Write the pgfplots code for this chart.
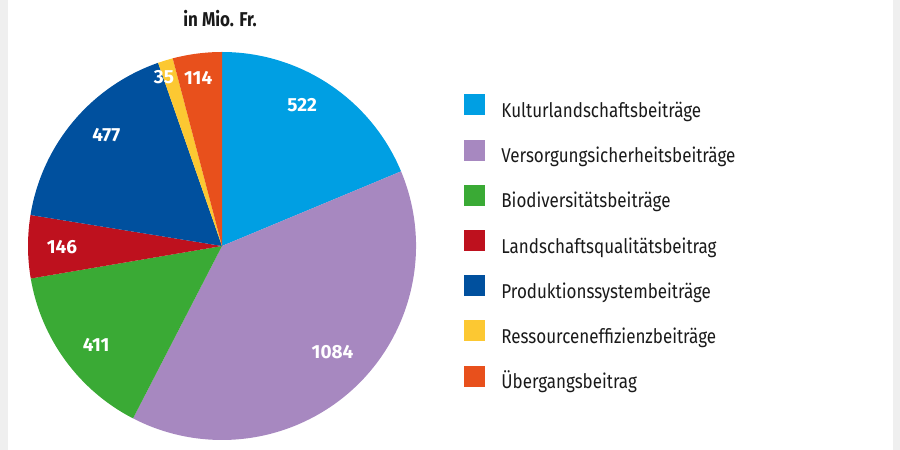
\documentclass[border=0pt]{standalone}
\usepackage{pgfplots}
\usepackage{pgfplotstable}
\pgfplotsset{compat=1.18}
\usepackage{fontspec}
\setmainfont{Fira Sans}[FakeStretch=0.85]
\newfontfamily\widefont{Fira Sans}

\definecolor{kult}{HTML}{009FE3}
\definecolor{vers}{HTML}{A788C0}
\definecolor{bio}{HTML}{3AAA35}
\definecolor{land}{HTML}{BE111E}
\definecolor{prod}{HTML}{00509E}
\definecolor{ress}{HTML}{FCC832}
\definecolor{ueb}{HTML}{E8501C}
\definecolor{strip}{HTML}{EFEFEF}
\definecolor{txt}{HTML}{1A1A1A}

% value, colour, label radius (fraction), label angle shift
\pgfplotstableread{
value col lrad lshift
522  kult 0.835 4
1084 vers 0.79  3.5
411  bio  0.825 2
146  land 0.825 0
477  prod 0.825 -3.7
35   ress 0.92  2
114  ueb  0.875 0.7
}\pietable

\begin{document}
\begin{tikzpicture}
\begin{axis}[
  scale only axis,
  width=450pt, height=225pt,
  xmin=0, xmax=900, ymin=0, ymax=450,
  hide axis,
  clip=false,
  legend cell align=left,
  legend style={at={(0.51556,0.79111)}, anchor=north west, draw=none, fill=none,
    inner sep=0pt, row sep=8.6pt, column sep=8pt,
    nodes={inner sep=0pt, text height=7.5pt, text depth=2.5pt, text=txt,
      font=\fontsize{10}{12}\selectfont}},
  legend image code/.code={\fill (0pt,-1.5pt) rectangle (10.5pt,9pt);},
]
\fill[strip] (axis cs:0,0) rectangle (axis cs:8,450);
\fill[strip] (axis cs:893,0) rectangle (axis cs:900,450);

\pgfplotsextra{%
  \def\total{0}%
  \pgfplotsforeachungrouped \i in {0,...,6}{%
    \pgfplotstablegetelem{\i}{value}\of\pietable
    \pgfmathsetmacro\total{\total+\pgfplotsretval}%
  }%
  \def\cum{0}%
  \pgfplotsforeachungrouped \i in {0,...,6}{%
    \pgfplotstablegetelem{\i}{value}\of\pietable \let\sv\pgfplotsretval
    \pgfplotstablegetelem{\i}{col}\of\pietable \let\sc\pgfplotsretval
    \pgfplotstablegetelem{\i}{lrad}\of\pietable \let\slr\pgfplotsretval
    \pgfplotstablegetelem{\i}{lshift}\of\pietable \let\sls\pgfplotsretval
    \pgfmathsetmacro\sa{90-360*(\cum/\total)}%
    \pgfmathsetmacro\sb{90-360*((\cum+\sv)/\total)}%
    \pgfmathsetmacro\sm{(\sa+\sb)/2+\sls}%
    \fill[fill=\sc] (axis cs:222,204) -- (axis cs:{222+194*cos(\sa)},{204+194*sin(\sa)})
      arc[start angle=\sa, end angle=\sb, radius=97pt] -- cycle;
    \node[text=white, font=\widefont\bfseries\fontsize{9.5}{10}\selectfont]
      at (axis cs:{222+194*\slr*cos(\sm)},{204+194*\slr*sin(\sm)}) {\sv};
    \pgfmathsetmacro\cum{\cum+\sv}%
  }%
}

\node[text=txt, font=\bfseries\fontsize{10}{12}\selectfont] at (axis cs:220,431) {in Mio. Fr.};

\addlegendimage{fill=kult, draw=none}
\addlegendentry{Kulturlandschaftsbeiträge}
\addlegendimage{fill=vers, draw=none}
\addlegendentry{Versorgungsicherheitsbeiträge}
\addlegendimage{fill=bio, draw=none}
\addlegendentry{Biodiversitätsbeiträge}
\addlegendimage{fill=land, draw=none}
\addlegendentry{Landschaftsqualitätsbeitrag}
\addlegendimage{fill=prod, draw=none}
\addlegendentry{Produktionssystembeiträge}
\addlegendimage{fill=ress, draw=none}
\addlegendentry{Ressourceneffizienzbeiträge}
\addlegendimage{fill=ueb, draw=none}
\addlegendentry{Übergangsbeitrag}
\end{axis}
\end{tikzpicture}
\end{document}
